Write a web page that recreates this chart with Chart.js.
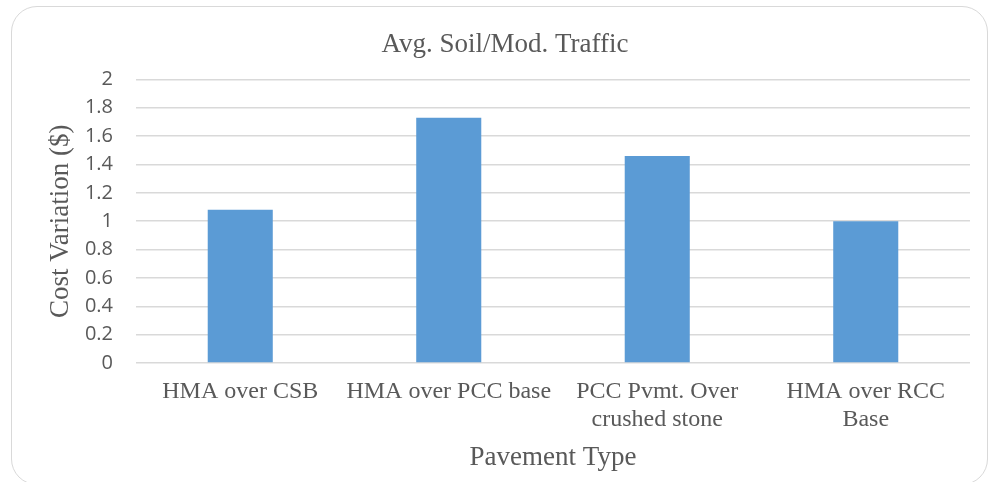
<!DOCTYPE html>
<html>
<head>
<meta charset="utf-8">
<script src="https://cdn.jsdelivr.net/npm/chart.js@4.4.1/dist/chart.umd.min.js"></script>
<style>
    html, body { margin: 0; padding: 0; background: #fff; overflow: hidden; }
    #wrap { position: relative; width: 989px; height: 482px; }
    #frame {
        position: absolute; left: 11px; top: 6px; width: 977px; height: 479px;
        border: 1.5px solid #d9d9d9; border-radius: 26px; box-sizing: border-box;
    }
    #grafico { position: absolute; left: 0; top: 0; }
</style>
</head>
<body>
<div id="wrap">
    <div id="frame"></div>
    <canvas id="grafico" width="989" height="482"></canvas>
</div>
<script>
// Dados
var categorias = ['HMA over CSB', 'HMA over PCC base', ['PCC Pvmt. Over', 'crushed stone'], ['HMA over RCC', 'Base']];
var valores = [1.08, 1.73, 1.46, 1.0];
var rotulosY = ['0', '0.2', '0.4', '0.6', '0.8', '1', '1.2', '1.4', '1.6', '1.8', '2'];

var corTexto = '#595959';
var fonteSerif = "'Liberation Serif', 'Times New Roman', serif";

var data = {
    labels: categorias,
    datasets: [{
        label: 'Cost Variation',
        data: valores,
        backgroundColor: '#5B9BD5',
        borderWidth: 0,
        barPercentage: 0.312,
        categoryPercentage: 1
    }]
};

var options = {
    responsive: false,
    animation: false,
    layout: { padding: { left: 40, right: 19, top: 0, bottom: 0 } },
    plugins: {
        legend: { display: false },
        tooltip: { enabled: false },
        title: {
            display: true,
            text: 'Avg. Soil/Mod. Traffic',
            color: corTexto,
            font: { family: fonteSerif, size: 27, weight: 'normal' },
            padding: { top: 29, bottom: 18 }
        }
    },
    scales: {
        x: {
            grid: { display: false, drawTicks: false },
            border: { display: false },
            ticks: {
                color: corTexto,
                font: { family: fonteSerif, size: 24 },
                padding: 14,
                maxRotation: 0,
                autoSkip: false
            },
            title: {
                display: true,
                text: 'Pavement Type',
                color: corTexto,
                font: { family: fonteSerif, size: 27 },
                padding: { top: 0, bottom: 8 }
            },
            afterFit: function (scale) { scale.height = 119; }
        },
        y: {
            min: 0,
            max: 2,
            grid: { color: '#d9d9d9', lineWidth: 1.5, drawTicks: false },
            border: { display: false },
            ticks: {
                stepSize: 0.2,
                color: corTexto,
                font: { family: "'Open Sans', sans-serif", size: 20 },
                padding: 23,
                callback: function (v, i) { return rotulosY[i]; }
            },
            title: {
                display: true,
                text: 'Cost Variation ($)',
                color: corTexto,
                font: { family: fonteSerif, size: 27 },
                padding: { top: 5, bottom: 0 }
            },
            afterFit: function (scale) { scale.width = 96; }
        }
    }
};

var ctx = document.getElementById('grafico').getContext('2d');
new Chart(ctx, {
    type: 'bar',
    data: data,
    options: options
});
</script>
</body>
</html>
